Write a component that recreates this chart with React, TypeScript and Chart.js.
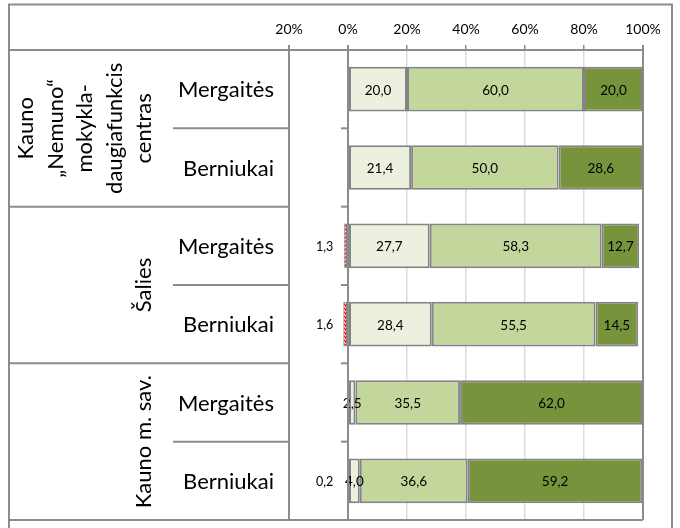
import React, { useEffect, useRef } from 'react';
import { Chart, registerables } from 'chart.js';

Chart.register(...registerables);

// ---- data ----
const categories = ['Mergaitės', 'Berniukai', 'Mergaitės', 'Berniukai', 'Mergaitės', 'Berniukai'];
const groupLines = [
  ['Kauno', '„Nemuno“', 'mokykla-', 'daugiafunkcis', 'centras'],
  ['Šalies'],
  ['Kauno m. sav.'],
];
const groupSizes = [2, 2, 2];
const negativeShare = [0, 0, -1.3, -1.6, 0, -0.2];
const lowShare = [20.0, 21.4, 27.7, 28.4, 2.5, 4.0];
const midShare = [60.0, 50.0, 58.3, 55.5, 35.5, 36.6];
const highShare = [20.0, 28.6, 12.7, 14.5, 62.0, 59.2];
const xMin = -20;
const xMax = 100;
const xStep = 20;

const FONT = 'Lato, "Open Sans", sans-serif';
const LINE = '#8C8C8C';
const BAR_BORDER = '#848484';
const fmt = (v: number) => Math.abs(v).toFixed(1).replace('.', ',');

function makeHatch(): CanvasPattern | string {
  const c = document.createElement('canvas');
  c.width = 4;
  c.height = 4;
  const g = c.getContext('2d');
  if (!g) return '#ff0000';
  g.fillStyle = '#ffffff';
  g.fillRect(0, 0, 4, 4);
  g.strokeStyle = '#ff0000';
  g.lineWidth = 1.8;
  g.beginPath();
  g.moveTo(0, 0); g.lineTo(4, 4);
  g.moveTo(-2, 2); g.lineTo(2, 6);
  g.moveTo(2, -2); g.lineTo(6, 2);
  g.stroke();
  return g.createPattern(c, 'repeat') || '#ff0000';
}

const tablePlugin = {
  id: 'tablePlugin',
  afterDraw(chart: any) {
    const { ctx, chartArea, scales } = chart;
    const xs = scales.x;
    const ys = scales.y;
    const n = categories.length;
    const step = (chartArea.bottom - chartArea.top) / n;
    const frameLeft = 9;
    const frameTop = 4.5;
    const frameRight = 672;
    const subLeft = 173;
    const tableRight = chartArea.left;
    ctx.save();
    ctx.strokeStyle = LINE;
    ctx.lineWidth = 2;
    // outer frame
    ctx.beginPath();
    ctx.moveTo(frameLeft, chart.height + 2);
    ctx.lineTo(frameLeft, frameTop);
    ctx.lineTo(frameRight, frameTop);
    ctx.lineTo(frameRight, chart.height + 2);
    ctx.stroke();
    // header line
    ctx.beginPath();
    ctx.moveTo(frameLeft, chartArea.top);
    ctx.lineTo(chartArea.left, chartArea.top);
    ctx.stroke();
    // bottom line
    ctx.beginPath();
    ctx.moveTo(frameLeft, chartArea.bottom);
    ctx.lineTo(chartArea.right, chartArea.bottom);
    ctx.stroke();
    // row lines
    let idx = 0;
    const zeroX = xs.getPixelForValue(0);
    for (let g = 0; g < groupSizes.length; g++) {
      const startIdx = idx;
      for (let k = 0; k < groupSizes[g]; k++) {
        const yb = ys.getPixelForValue(idx) + step / 2;
        const last = k === groupSizes[g] - 1;
        if (!last || idx < n - 1) {
          ctx.beginPath();
          ctx.moveTo(last ? frameLeft : subLeft, yb);
          ctx.lineTo(tableRight, yb);
          ctx.stroke();
        }
        idx++;
      }
      // group label
      const yTop = ys.getPixelForValue(startIdx) - step / 2;
      const yBot = ys.getPixelForValue(idx - 1) + step / 2;
      const cy = (yTop + yBot) / 2;
      const cx = 144;
      const lines = groupLines[g];
      const lh = 29.5;
      ctx.save();
      ctx.translate(cx, cy);
      ctx.rotate(-Math.PI / 2);
      ctx.fillStyle = '#000';
      ctx.font = `22px ${FONT}`;
      ctx.textAlign = 'center';
      ctx.textBaseline = 'middle';
      for (let i = 0; i < lines.length; i++) {
        ctx.fillText(lines[i], 0, -(lines.length - 1 - i) * lh);
      }
      ctx.restore();
    }
    // category labels
    ctx.fillStyle = '#000';
    ctx.font = `22px ${FONT}`;
    ctx.textAlign = 'right';
    ctx.textBaseline = 'middle';
    for (let i = 0; i < n; i++) {
      ctx.fillText(categories[i], tableRight - 15, ys.getPixelForValue(i) + 1);
    }
    // zero axis line and its ticks
    ctx.lineWidth = 2;
    ctx.beginPath();
    ctx.moveTo(zeroX, chartArea.top);
    ctx.lineTo(zeroX, chartArea.bottom);
    ctx.stroke();
    for (let i = 0; i <= n; i++) {
      const yb = chartArea.top + i * step;
      ctx.beginPath();
      ctx.moveTo(zeroX - 7, yb);
      ctx.lineTo(zeroX, yb);
      ctx.stroke();
    }
    ctx.restore();
  },
  afterDatasetsDraw(chart: any) {
    const { ctx, scales } = chart;
    const xs = scales.x;
    ctx.save();
    ctx.fillStyle = '#000';
    ctx.textBaseline = 'middle';
    chart.data.datasets.forEach((ds: any, di: number) => {
      const meta = chart.getDatasetMeta(di);
      meta.data.forEach((el: any, i: number) => {
        const v = ds.data[i];
        if (!v) return;
        const p = el.getProps(['x', 'y', 'base'], true);
        if (di === 0) {
          ctx.font = `12.5px ${FONT}`;
          ctx.textAlign = 'right';
          ctx.fillText(fmt(v), xs.getPixelForValue(-5), p.y + 1);
        } else {
          ctx.font = `13.5px ${FONT}`;
          ctx.textAlign = 'center';
          ctx.fillText(fmt(v), (p.x + p.base) / 2, p.y + 1);
        }
      });
    });
    ctx.restore();
  },
};

export default function App() {
  const ref = useRef<HTMLCanvasElement | null>(null);
  useEffect(() => {
    if (!ref.current) return;
    const common = {
      borderColor: BAR_BORDER,
      borderWidth: 2,
      borderSkipped: false,
      categoryPercentage: 1,
      barPercentage: 0.57,
      stack: 's',
    };
    const chart = new Chart(ref.current, {
      type: 'bar',
      data: {
        labels: categories,
        datasets: [
          { ...common, borderWidth: 1, label: 'neg', data: negativeShare, backgroundColor: makeHatch() as any },
          { ...common, label: 'low', data: lowShare, backgroundColor: '#EBF1DE' },
          { ...common, label: 'mid', data: midShare, backgroundColor: '#C3D69B' },
          { ...common, label: 'high', data: highShare, backgroundColor: '#77933C' },
        ],
      },
      options: {
        indexAxis: 'y',
        animation: false,
        responsive: false,
        devicePixelRatio: 1,
        layout: { padding: { left: 289, right: 37, top: 8, bottom: 8 } },
        plugins: { legend: { display: false }, tooltip: { enabled: false }, title: { display: false } },
        scales: {
          x: {
            type: 'linear',
            position: 'top',
            stacked: true,
            min: xMin,
            max: xMax,
            afterFit: (s: any) => { s.height = 42; },
            ticks: {
              stepSize: xStep,
              padding: 7,
              color: '#000',
              font: { family: FONT, size: 14 },
              callback: (v: any) => `${Math.abs(Number(v))}%`,
            },
            grid: {
              color: (c: any) => (c.tick && c.tick.value > 0 && c.tick.value < 100 ? '#DCDCDC' : LINE),
              lineWidth: (c: any) => (c.tick && c.tick.value > 0 && c.tick.value < 100 ? 1.5 : 2),
              tickColor: LINE,
              tickLength: 5,
            },
            border: { display: true, color: LINE, width: 2 },
          },
          y: {
            type: 'category',
            stacked: true,
            display: false,
          },
        },
      },
      plugins: [tablePlugin],
    } as any);
    return () => chart.destroy();
  }, []);
  return (
    <div style={{ position: 'absolute', left: 0, top: 0, width: 680, height: 528, background: '#fff' }}>
      <canvas ref={ref} width={680} height={528} style={{ display: 'block' }} />
    </div>
  );
}
